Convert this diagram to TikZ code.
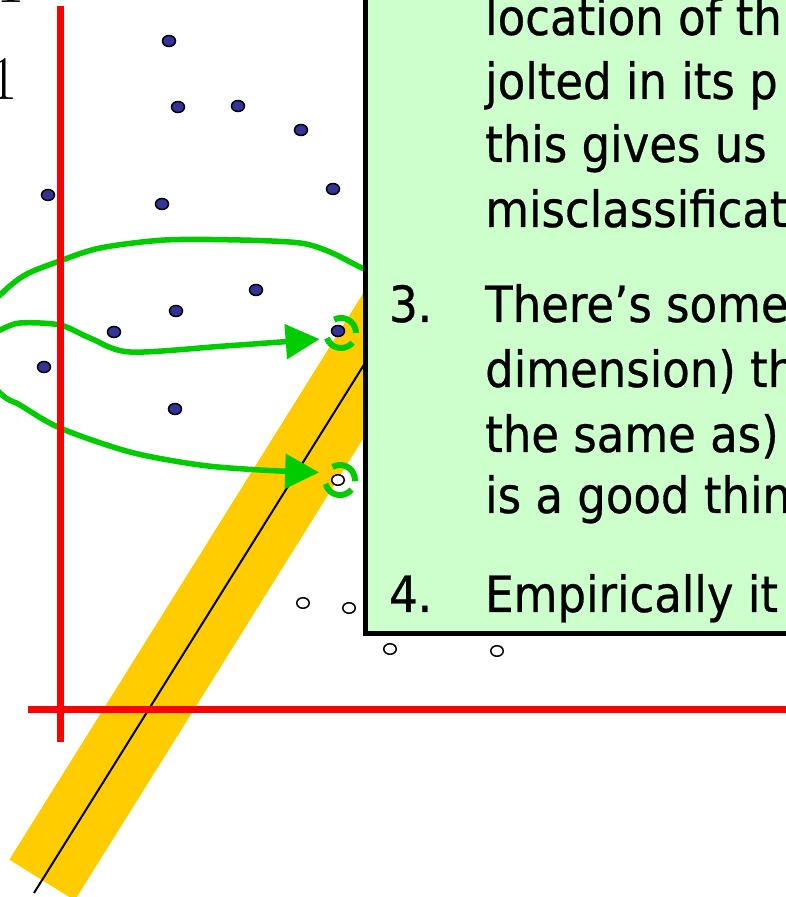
\documentclass[tikz,border=0pt]{standalone}
\usepackage{fontspec}
\usepackage{xcolor}
\usepackage{tikz}
\usetikzlibrary{arrows.meta,shapes.geometric}
\newfontfamily\slidefont{DejaVu Sans}[FakeStretch=0.9,FakeBold=0.6]
\definecolor{slidegreen}{RGB}{204,255,204}
\definecolor{pengreen}{RGB}{0,204,0}
\definecolor{bandgold}{RGB}{255,204,0}
\definecolor{dotblue}{RGB}{51,51,153}

\begin{document}
\begin{tikzpicture}[
  x=1pt, y=1pt,
  bluedot/.style = {
    ellipse, draw=black, line width=1.5pt, fill=dotblue,
    minimum width=13pt, minimum height=11pt, inner sep=0pt
  },
  hollowdot/.style = {
    ellipse, draw=black, line width=1.5pt, fill=white,
    minimum width=12.5pt, minimum height=10.5pt, inner sep=0pt
  },
  ringmark/.style = {circle, minimum size=44pt, inner sep=0pt},
  ringarc/.style = {pengreen, line width=6pt},
  pen/.style = {pengreen, line width=5.5pt, line cap=round, line join=round},
  penarr/.style = {pen, -{Triangle[length=34pt,width=34pt]}},
  axisline/.style = {red, line width=7pt},
  slidetext/.style = {anchor=base west, inner sep=0pt, font=\slidefont\fontsize{50}{64}\selectfont},
  axislabel/.style = {anchor=base west, inner sep=0pt, font=\fontsize{62}{62}\selectfont}
]
  \useasboundingbox (0,0) rectangle (786,897);
  \fill[white] (0,0) rectangle (786,897);
  \clip (0,0) rectangle (786,897);

  % separating band and its centre line
  \coordinate (bandlow) at (42,17);
  \coordinate (linelow) at (34,4);
  \coordinate (bandtop) at (420,622);
  \draw[bandgold, line width=77pt] (bandlow) -- (bandtop);
  \draw[black, line width=2pt] (linelow) -- (bandtop);

  % points of the two classes
  \node[bluedot] (b1)  at (169,856) {};
  \node[bluedot] (b2)  at (178,790) {};
  \node[bluedot] (b3)  at (238,791) {};
  \node[bluedot] (b4)  at (301,767) {};
  \node[bluedot] (b5)  at (48,702)  {};
  \node[bluedot] (b6)  at (162,693) {};
  \node[bluedot] (b7)  at (333,708) {};
  \node[bluedot] (b8)  at (256,607) {};
  \node[bluedot] (b9)  at (176,586) {};
  \node[bluedot] (b10) at (114,565) {};
  \node[bluedot] (b11) at (44,530)  {};
  \node[bluedot] (b12) at (175,488) {};
  \node[bluedot] (b13) at (338,566) {};
  \node[hollowdot] (w1) at (338,417) {};
  \node[hollowdot] (w2) at (303,294) {};
  \node[hollowdot] (w3) at (349,289) {};
  \node[hollowdot] (w4) at (390,248) {};
  \node[hollowdot] (w5) at (497,246) {};

  % circled support points
  \node[ringmark] (ringA) at (341,564) {};
  \node[ringmark] (ringB) at (340,417) {};
  \draw[ringarc] (ringA.center) ++(117:15pt) arc[start angle=117, end angle=0, radius=15pt];
  \draw[ringarc] (ringA.center) ++(-40:15pt) arc[start angle=-40, end angle=-160, radius=15pt];
  \draw[ringarc] (ringB.center) ++(120:15pt) arc[start angle=120, end angle=-5, radius=15pt];
  \draw[ringarc] (ringB.center) ++(-40:15pt) arc[start angle=-40, end angle=-165, radius=15pt];

  % hand drawn strokes
  \coordinate (loopstart) at (400,612);
  \coordinate (sweepstart) at (-25,555);
  \draw[penarr] plot[smooth] coordinates {(loopstart) (362,629) (330,645) (300,654) (240,657)
    (165,657) (100,649) (57,635) (25,622) (0,602) (-45,555) (0,504) (20,492) (60,469)
    (130,445) (200,432) (260,427) (ringB.160)};
  \draw[penarr] plot[smooth] coordinates {(sweepstart) (0,567) (20,574) (60,572) (90,559)
    (130,545) (225,551) (ringA.196)};

  % axes
  \coordinate (vtop) at (60,891);
  \coordinate (vbot) at (60,155);
  \coordinate (hleft) at (28,187);
  \coordinate (hright) at (800,187);
  \draw[axisline] (vtop) -- (vbot);
  \draw[axisline] (hleft) -- (hright);

  \node[axislabel] (lab1) at (-4,894) {1};
  \node[axislabel] (lab2) at (-11,797) {1};

  % slide box
  \draw[black, line width=5pt, fill=slidegreen] (365,263) rectangle (820,920);
  \node[slidetext] (t2a) at (485,862) {location of th};
  \node[slidetext] (t2b) at (485,798) {jolted in its p};
  \node[slidetext] (t2c) at (485,735) {this gives us};
  \node[slidetext] (t2d) at (485,670) {misclassificat};
  \node[slidetext] (n3)  at (389,575) {3.};
  \node[slidetext] (t3a) at (485,575) {There’s some};
  \node[slidetext] (t3b) at (485,510) {dimension) th};
  \node[slidetext] (t3c) at (485,445) {the same as)};
  \node[slidetext] (t3d) at (485,384) {is a good thin};
  \node[slidetext] (n4)  at (389,285) {4.};
  \node[slidetext] (t4a) at (485,285) {Empirically it};
\end{tikzpicture}
\end{document}
